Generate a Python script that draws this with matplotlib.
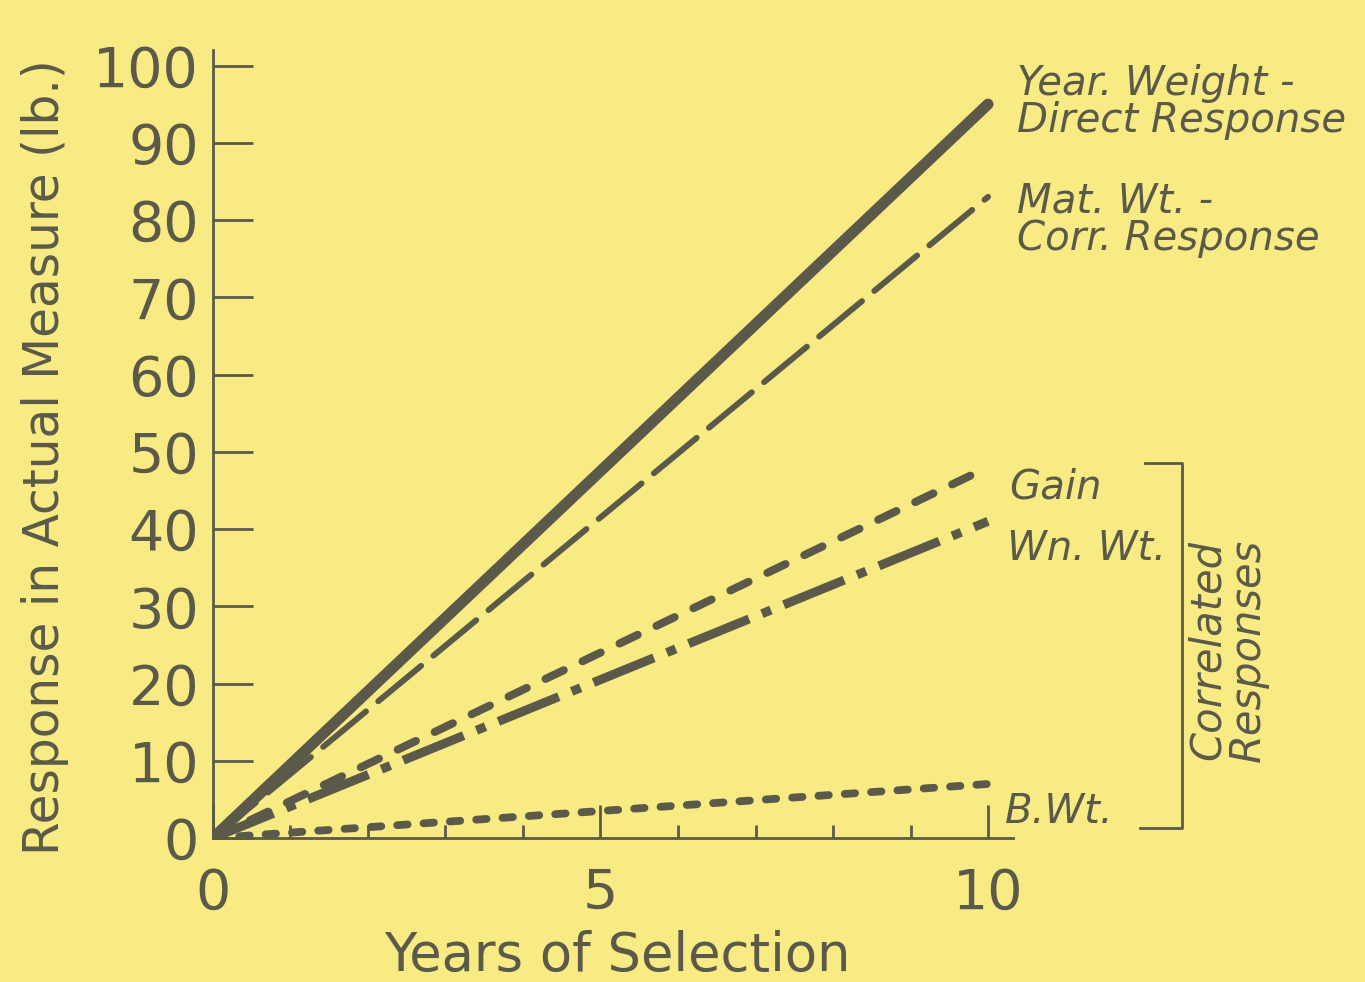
import matplotlib
matplotlib.use("Agg")
import matplotlib.pyplot as plt
from matplotlib.lines import Line2D

plt.rcParams["font.family"] = ["DejaVu Sans"]
plt.rcParams["lines.scale_dashes"] = False

BG = "#F8EB84"
INK = "#5B5A4A"

# response after 10 years of selection (lb.), straight from the origin
years = [0, 10]
direct_yw = [0, 95]   # yearling weight, direct response
corr_mat = [0, 83]    # mature weight
corr_gain = [0, 48]
corr_wn = [0, 41]     # weaning weight
corr_bw = [0, 7]      # birth weight

y_ticks = [0, 10, 20, 30, 40, 50, 60, 70, 80, 90, 100]
x_ticks = [0, 5, 10]
x_minor = [1, 2, 3, 4, 6, 7, 8, 9]

fig = plt.figure(figsize=(13.65, 9.82), dpi=100, facecolor=BG)
ax = fig.add_axes([0.1560, 0.1466, 0.5860, 0.8024], facecolor=BG)

ax.plot(years, direct_yw, color=INK, lw=8, solid_capstyle="round")
ax.plot(years, corr_mat, color=INK, lw=4.3, dash_capstyle="round",
        ls=(0, (40, 11.5)))
ax.plot(years, corr_gain, color=INK, lw=5.8, dash_capstyle="round",
        ls=(0, (14.5, 15)))
ax.plot(years, corr_wn, color=INK, lw=6.5, dash_capstyle="butt",
        ls=(0, (47, 10, 7, 10)))
ax.plot(years, corr_bw, color=INK, lw=5.6, dash_capstyle="round",
        ls=(0, (7.5, 11.5)))

ax.set_xlim(0, 10.32)
ax.set_ylim(0, 102)
for s in ("top", "right"):
    ax.spines[s].set_visible(False)
for s in ("left", "bottom"):
    ax.spines[s].set_color(INK)
    ax.spines[s].set_linewidth(2)

ax.set_yticks(y_ticks)
ax.set_yticklabels([str(v) for v in y_ticks])
ax.set_xticks(x_ticks)
ax.set_xticklabels([str(v) for v in x_ticks])
ax.set_xticks(x_minor, minor=True)
ax.tick_params(axis="y", direction="in", length=29, width=2, color=INK,
               labelsize=40, labelcolor=INK, pad=10)
ax.tick_params(axis="x", which="major", direction="in", length=24, width=2,
               color=INK, labelsize=40, labelcolor=INK, pad=21)
ax.tick_params(axis="x", which="minor", direction="in", length=9.5, width=2,
               color=INK)

fig.text(0.033, 0.535, "Response in Actual Measure (lb.)", rotation=90,
         ha="center", va="center", fontsize=35, color=INK)
fig.text(0.452, 0.027, "Years of Selection", ha="center", va="center",
         fontsize=38, color=INK)

lab_kw = dict(fontsize=29, color=INK, style="italic",
              va="center", ha="left", linespacing=0.95)
ax.text(10.38, 95.3, "Year. Weight -\nDirect Response", **lab_kw)
ax.text(10.38, 80.0, "Mat. Wt. -\nCorr. Response", **lab_kw)
ax.text(10.27, 45.5, "Gain", **lab_kw)
ax.text(10.25, 37.5, "Wn. Wt.", **lab_kw)
ax.text(10.22, 3.5, "B.Wt.", **lab_kw)

# bracket grouping the correlated responses
fx = lambda px: px / 1365
fy = lambda py: 1 - py / 982
fig.add_artist(Line2D([fx(1145), fx(1182), fx(1182), fx(1140)],
                      [fy(463), fy(463), fy(828), fy(828)],
                      color=INK, lw=2))
fig.text(fx(1228), fy(650), "Correlated\nResponses", rotation=90,
         ha="center", va="center", fontsize=30, color=INK, style="italic",
         linespacing=0.95)

fig.savefig("out.png", dpi=100, facecolor=BG)
